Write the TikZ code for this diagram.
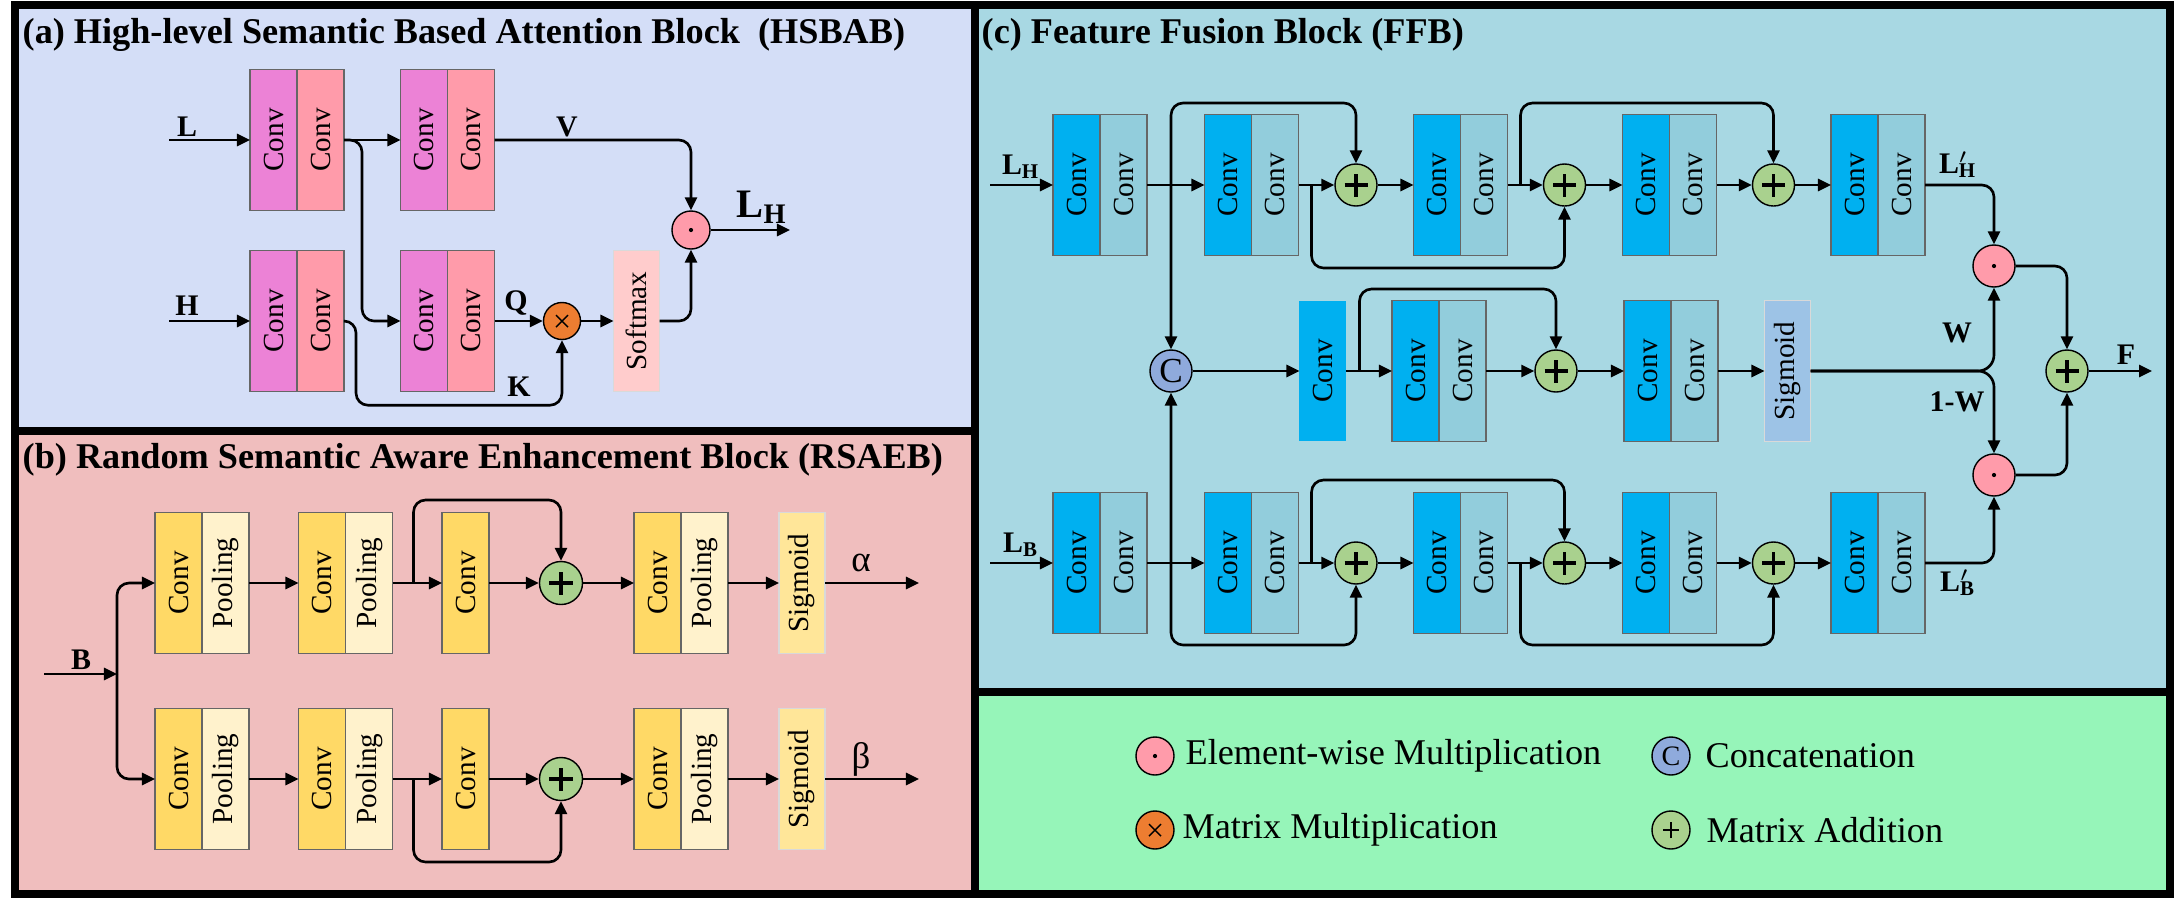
\documentclass[tikz,border=0pt]{standalone}
\usepackage{fontspec}
\setmainfont{LiberationSerif}[Extension=.ttf, UprightFont=*-Regular, BoldFont=*-Bold, ItalicFont=*-Italic, BoldItalicFont=*-BoldItalic]
\usetikzlibrary{arrows.meta,positioning,calc}
\definecolor{bga}{HTML}{D4DEF7}
\definecolor{bgb}{HTML}{F0BEBE}
\definecolor{bgc}{HTML}{A8D8E3}
\definecolor{bgd}{HTML}{96F5B9}
\definecolor{violetc}{HTML}{EC82D6}
\definecolor{pinkc}{HTML}{FF9BAA}
\definecolor{softmaxc}{HTML}{FFCCCC}
\definecolor{orangec}{HTML}{ED7D31}
\definecolor{greenc}{HTML}{A9D18E}
\definecolor{bluec}{HTML}{8FAADC}
\definecolor{goldc}{HTML}{FFD966}
\definecolor{creamc}{HTML}{FFF2CC}
\definecolor{sigb}{HTML}{FFE699}
\definecolor{cyanc}{HTML}{00B0F0}
\definecolor{tealc}{HTML}{92CDDC}
\definecolor{sigc}{HTML}{9DC3E6}
\newcommand{\vt}[1]{\rotatebox{90}{#1}}
\tikzset{
  ar/.style={-{Triangle[length=1.3mm,width=1.2mm]}, line width=.75pt, rounded corners=1.2mm},
  half/.style={draw=black!60, line width=.4pt, outer sep=0pt, inner sep=0pt, minimum width=4.7mm, minimum height=14.1mm, font=\fontsize{8.3}{9}\selectfont},
  single/.style={half, draw=black!15, minimum width=4.6mm},
  op/.style={circle, draw, line width=.4pt, inner sep=0pt, minimum size=4.2mm},
  plus/.style={op, fill=greenc, path picture={\draw[black, line width=.9pt] (path picture bounding box.center) +(-1.15mm,0) -- +(1.15mm,0) +(0,-1.15mm) -- +(0,1.15mm);}},
  dotop/.style={op, fill=pinkc, path picture={\fill[black] (path picture bounding box.center) circle (.6pt);}},
  mul/.style={op, fill=orangec, path picture={\draw[black, line width=.4pt] (path picture bounding box.center) +(-.6mm,-.6mm) -- +(.6mm,.6mm) +(-.6mm,.6mm) -- +(.6mm,-.6mm);}},
  concat/.style={op, fill=bluec, font=\fontsize{10}{10}\selectfont},
  lbl/.style={font=\bfseries\fontsize{8.5}{10}\selectfont, inner sep=0pt},
  ttl/.style={font=\bfseries\fontsize{10.3}{12}\selectfont, anchor=base west, inner sep=0pt},
  lgd/.style={font=\fontsize{10.3}{12}\selectfont, anchor=west, inner sep=0pt},
  panel/.style={draw=black, line width=2pt},
}
\begin{document}
\begin{tikzpicture}[x=0.01cm, y=-0.01cm]
  \useasboundingbox (0,0) rectangle (2174,899);
  \fill[white] (0,0) rectangle (2174,899);
  \fill[bga] (15,5) rectangle (975,431);
  \fill[bgb] (15,431) rectangle (975,894);
  \fill[bgc] (975,5) rectangle (2170,692);
  \fill[bgd] (975,692) rectangle (2170,894);
  \draw[panel] (15,5) rectangle (975,431);
  \draw[panel] (15,431) rectangle (975,894);
  \draw[panel] (975,5) rectangle (2170,692);
  \draw[panel] (975,692) rectangle (2170,894);

  % (a) HSBAB
  \node[ttl] (aT) at (22,43) {(a) High-level Semantic Based Attention Block~ (HSBAB)};
  \node[half, fill=violetc] (aL1) at (273.5,140) {\vt{Conv}};
  \node[half, fill=pinkc, right=0pt of aL1] (aL2) {\vt{Conv}};
  \node[half, fill=violetc] (aV1) at (424,140) {\vt{Conv}};
  \node[half, fill=pinkc, right=0pt of aV1] (aV2) {\vt{Conv}};
  \node[half, fill=violetc] (aH1) at (273.5,321) {\vt{Conv}};
  \node[half, fill=pinkc, right=0pt of aH1] (aH2) {\vt{Conv}};
  \node[half, fill=violetc] (aQ1) at (424,321) {\vt{Conv}};
  \node[half, fill=pinkc, right=0pt of aQ1] (aQ2) {\vt{Conv}};
  \node[mul, minimum size=3.7mm] (aMul) at (562,321) {};
  \node[single, fill=softmaxc] (aSm) at (636.5,321) {\vt{Softmax}};
  \node[dotop, minimum size=3.8mm] (aDot) at (691,230) {};
  \coordinate (aInL) at (169,140);
  \coordinate (aInH) at (169,321);
  \coordinate (aOut) at (790,230);
  \node[lbl] (aLl) at (187,127) {L};
  \node[lbl] (aHl) at (187,306) {H};
  \node[lbl] (aVl) at (567,127) {V};
  \node[lbl] (aQl) at (516,303) {Q};
  \node[lbl] (aKl) at (519,387) {K};
  \node[lbl, font=\bfseries\fontsize{11.5}{12}\selectfont] (aLH) at (762,207) {L\textsubscript{H}};
  \draw[ar] (aInL) -- (aL1);
  \draw[ar] (aInH) -- (aH1);
  \draw[ar] (aL2) -- (aV1);
  \draw[ar] (aL2.east) -- ++(18,0) |- (aQ1.west);
  \draw[ar] (aQ2) -- (aMul);
  \draw[ar] (aH2.east) -- ++(12,0) |- ($(aMul.south)+(0,65)$) -- (aMul.south);
  \draw[ar] (aMul) -- (aSm);
  \draw[ar] (aSm.east) -| (aDot.south);
  \draw[ar] (aV2.east) -| (aDot.north);
  \draw[ar] (aDot) -- (aOut);

  % (b) RSAEB
  \node[ttl] (bT) at (22,468) {(b) Random Semantic Aware Enhancement Block (RSAEB)};
  \coordinate (bIn) at (44,674);
  \coordinate (bJ) at (117,674);
  \node[lbl] (bBl) at (81,660) {B};
  \draw[ar] (bIn) -- (bJ);
  \foreach \r/\y/\s/\g in {t/583/-1/α, b/779/1/β}{
    \node[half, fill=goldc] (bC1\r) at (178.5,\y) {\vt{Conv}};
    \node[half, fill=creamc, right=0pt of bC1\r] (bP1\r) {\vt{Pooling}};
    \node[half, fill=goldc] (bC2\r) at (322,\y) {\vt{Conv}};
    \node[half, fill=creamc, right=0pt of bC2\r] (bP2\r) {\vt{Pooling}};
    \node[half, fill=goldc] (bC3\r) at (465.5,\y) {\vt{Conv}};
    \node[plus, minimum size=4.3mm] (bA\r) at (561,\y) {};
    \node[half, fill=goldc] (bC4\r) at (657.5,\y) {\vt{Conv}};
    \node[half, fill=creamc, right=0pt of bC4\r] (bP4\r) {\vt{Pooling}};
    \node[single, fill=sigb] (bSg\r) at (802,\y) {\vt{Sigmoid}};
    \coordinate (bOut\r) at (919,\y);
    \node[font=\fontsize{10.5}{12}\selectfont, inner sep=0pt] (bG\r) at (861,\y-20) {\g};
    \draw[ar] (bJ) |- (bC1\r.west);
    \draw[ar] (bP1\r) -- (bC2\r);
    \draw[ar] (bP2\r) -- (bC3\r);
    \draw[ar] (bC3\r) -- (bA\r);
    \draw[ar] (bA\r) -- (bC4\r);
    \draw[ar] (bP4\r) -- (bSg\r);
    \draw[ar] (bSg\r) -- (bOut\r);
    \draw[ar] (bP2\r.east) ++(21,0) |- ($(bA\r)+(0,\s*83)$) -- (bA\r);
  }

  % (c) FFB
  \node[ttl] (cT) at (981,43) {(c) Feature Fusion Block (FFB)};
  \node[concat] (cC) at (1171,371) {C};
  \node[dotop] (cDt) at (1994,266) {};
  \node[dotop] (cDb) at (1994,475) {};
  \foreach \r/\y/\s/\n/\da in {t/185/-1/H/north, b/563/1/B/south}{
    \node[half, fill=cyanc] (cP1a\r) at (1076.5,\y) {\vt{Conv}};
    \node[half, fill=tealc, right=0pt of cP1a\r] (cP1b\r) {\vt{Conv}};
    \node[half, fill=cyanc] (cP2a\r) at (1228,\y) {\vt{Conv}};
    \node[half, fill=tealc, right=0pt of cP2a\r] (cP2b\r) {\vt{Conv}};
    \node[plus] (cA1\r) at (1356,\y) {};
    \node[half, fill=cyanc] (cP3a\r) at (1437,\y) {\vt{Conv}};
    \node[half, fill=tealc, right=0pt of cP3a\r] (cP3b\r) {\vt{Conv}};
    \node[plus] (cA2\r) at (1564.5,\y) {};
    \node[half, fill=cyanc] (cP4a\r) at (1646,\y) {\vt{Conv}};
    \node[half, fill=tealc, right=0pt of cP4a\r] (cP4b\r) {\vt{Conv}};
    \node[plus] (cA3\r) at (1773.5,\y) {};
    \node[half, fill=cyanc] (cP5a\r) at (1854.5,\y) {\vt{Conv}};
    \node[half, fill=tealc, right=0pt of cP5a\r] (cP5b\r) {\vt{Conv}};
    \coordinate (cIn\r) at (990,\y);
    \node[lbl] (cLi\r) at (1021,\y-18) {L\textsubscript{\n}};
    \node[lbl] (cLo\r) at (1958,\y+\s*20) {L\rlap{$'$}\textsubscript{\n}};
    \draw[ar] (cIn\r) -- (cP1a\r);
    \draw[ar] (cP1b\r) -- (cP2a\r);
    \draw[ar] ($(cP1b\r.east)+(24,0)$) -- (cC);
    \draw[ar] (cP1b\r.east) ++(24,0) |- ($(cA1\r)+(0,\s*82)$) -- (cA1\r);
    \draw[ar] (cP2b\r) -- (cA1\r);
    \draw[ar] (cA1\r) -- (cP3a\r);
    \draw[ar] (cP2b\r.east) ++(13,0) |- ($(cA2\r)+(0,-\s*83)$) -- (cA2\r);
    \draw[ar] (cP3b\r) -- (cA2\r);
    \draw[ar] (cA2\r) -- (cP4a\r);
    \draw[ar] (cP3b\r.east) ++(13,0) |- ($(cA3\r)+(0,\s*82)$) -- (cA3\r);
    \draw[ar] (cP4b\r) -- (cA3\r);
    \draw[ar] (cA3\r) -- (cP5a\r);
    \draw[ar] (cP5b\r.east) -| (cD\r.\da);
  }
  \node[single, fill=cyanc, draw=none, minimum height=13.9mm] (cM0) at (1322.5,371) {\vt{Conv}};
  \node[half, fill=cyanc] (cM1a) at (1415.5,371) {\vt{Conv}};
  \node[half, fill=tealc, right=0pt of cM1a] (cM1b) {\vt{Conv}};
  \node[plus] (cAm) at (1556,371) {};
  \node[half, fill=cyanc] (cM2a) at (1647.5,371) {\vt{Conv}};
  \node[half, fill=tealc, right=0pt of cM2a] (cM2b) {\vt{Conv}};
  \node[single, fill=sigc] (cSg) at (1787.5,371) {\vt{Sigmoid}};
  \node[plus] (cF) at (2067,371) {};
  \coordinate (cOut) at (2152,371);
  \node[lbl] (cWl) at (1957,333) {W};
  \node[lbl] (cW1l) at (1957,402) {1-W};
  \node[lbl] (cFl) at (2126,355) {F};
  \draw[ar] (cC) -- (cM0);
  \draw[ar] (cM0) -- (cM1a);
  \draw[ar] (cM0.east) ++(14,0) |- ($(cAm)+(0,-82)$) -- (cAm);
  \draw[ar] (cM1b) -- (cAm);
  \draw[ar] (cAm) -- (cM2a);
  \draw[ar] (cM2b) -- (cSg);
  \draw[ar, rounded corners=1.6mm] (cSg.east) -| (cDt.south);
  \draw[ar, rounded corners=1.6mm] (cSg.east) -| (cDb.north);
  \draw[ar] (cDt.east) -| (cF.north);
  \draw[ar] (cDb.east) -| (cF.south);
  \draw[ar] (cF) -- (cOut);

  % legend
  \node[dotop, minimum size=3.8mm] (lgD) at (1155,756) {};
  \node[lgd] (lgDt) at (1185,756) {Element-wise Multiplication};
  \node[concat, minimum size=3.8mm, font=\fontsize{8}{8}\selectfont] (lgC) at (1671,756) {C};
  \node[lgd] (lgCt) at (1705,756) {Concatenation};
  \node[mul, minimum size=3.8mm] (lgM) at (1155,830) {};
  \node[lgd] (lgMt) at (1182,830) {Matrix Multiplication};
  \node[plus, minimum size=3.8mm, path picture={\draw[black, line width=.5pt] (path picture bounding box.center) +(-.8mm,0) -- +(.8mm,0) +(0,-.8mm) -- +(0,.8mm);}] (lgA) at (1671,830) {};
  \node[lgd] (lgAt) at (1706,830) {Matrix Addition};
\end{tikzpicture}
\end{document}
